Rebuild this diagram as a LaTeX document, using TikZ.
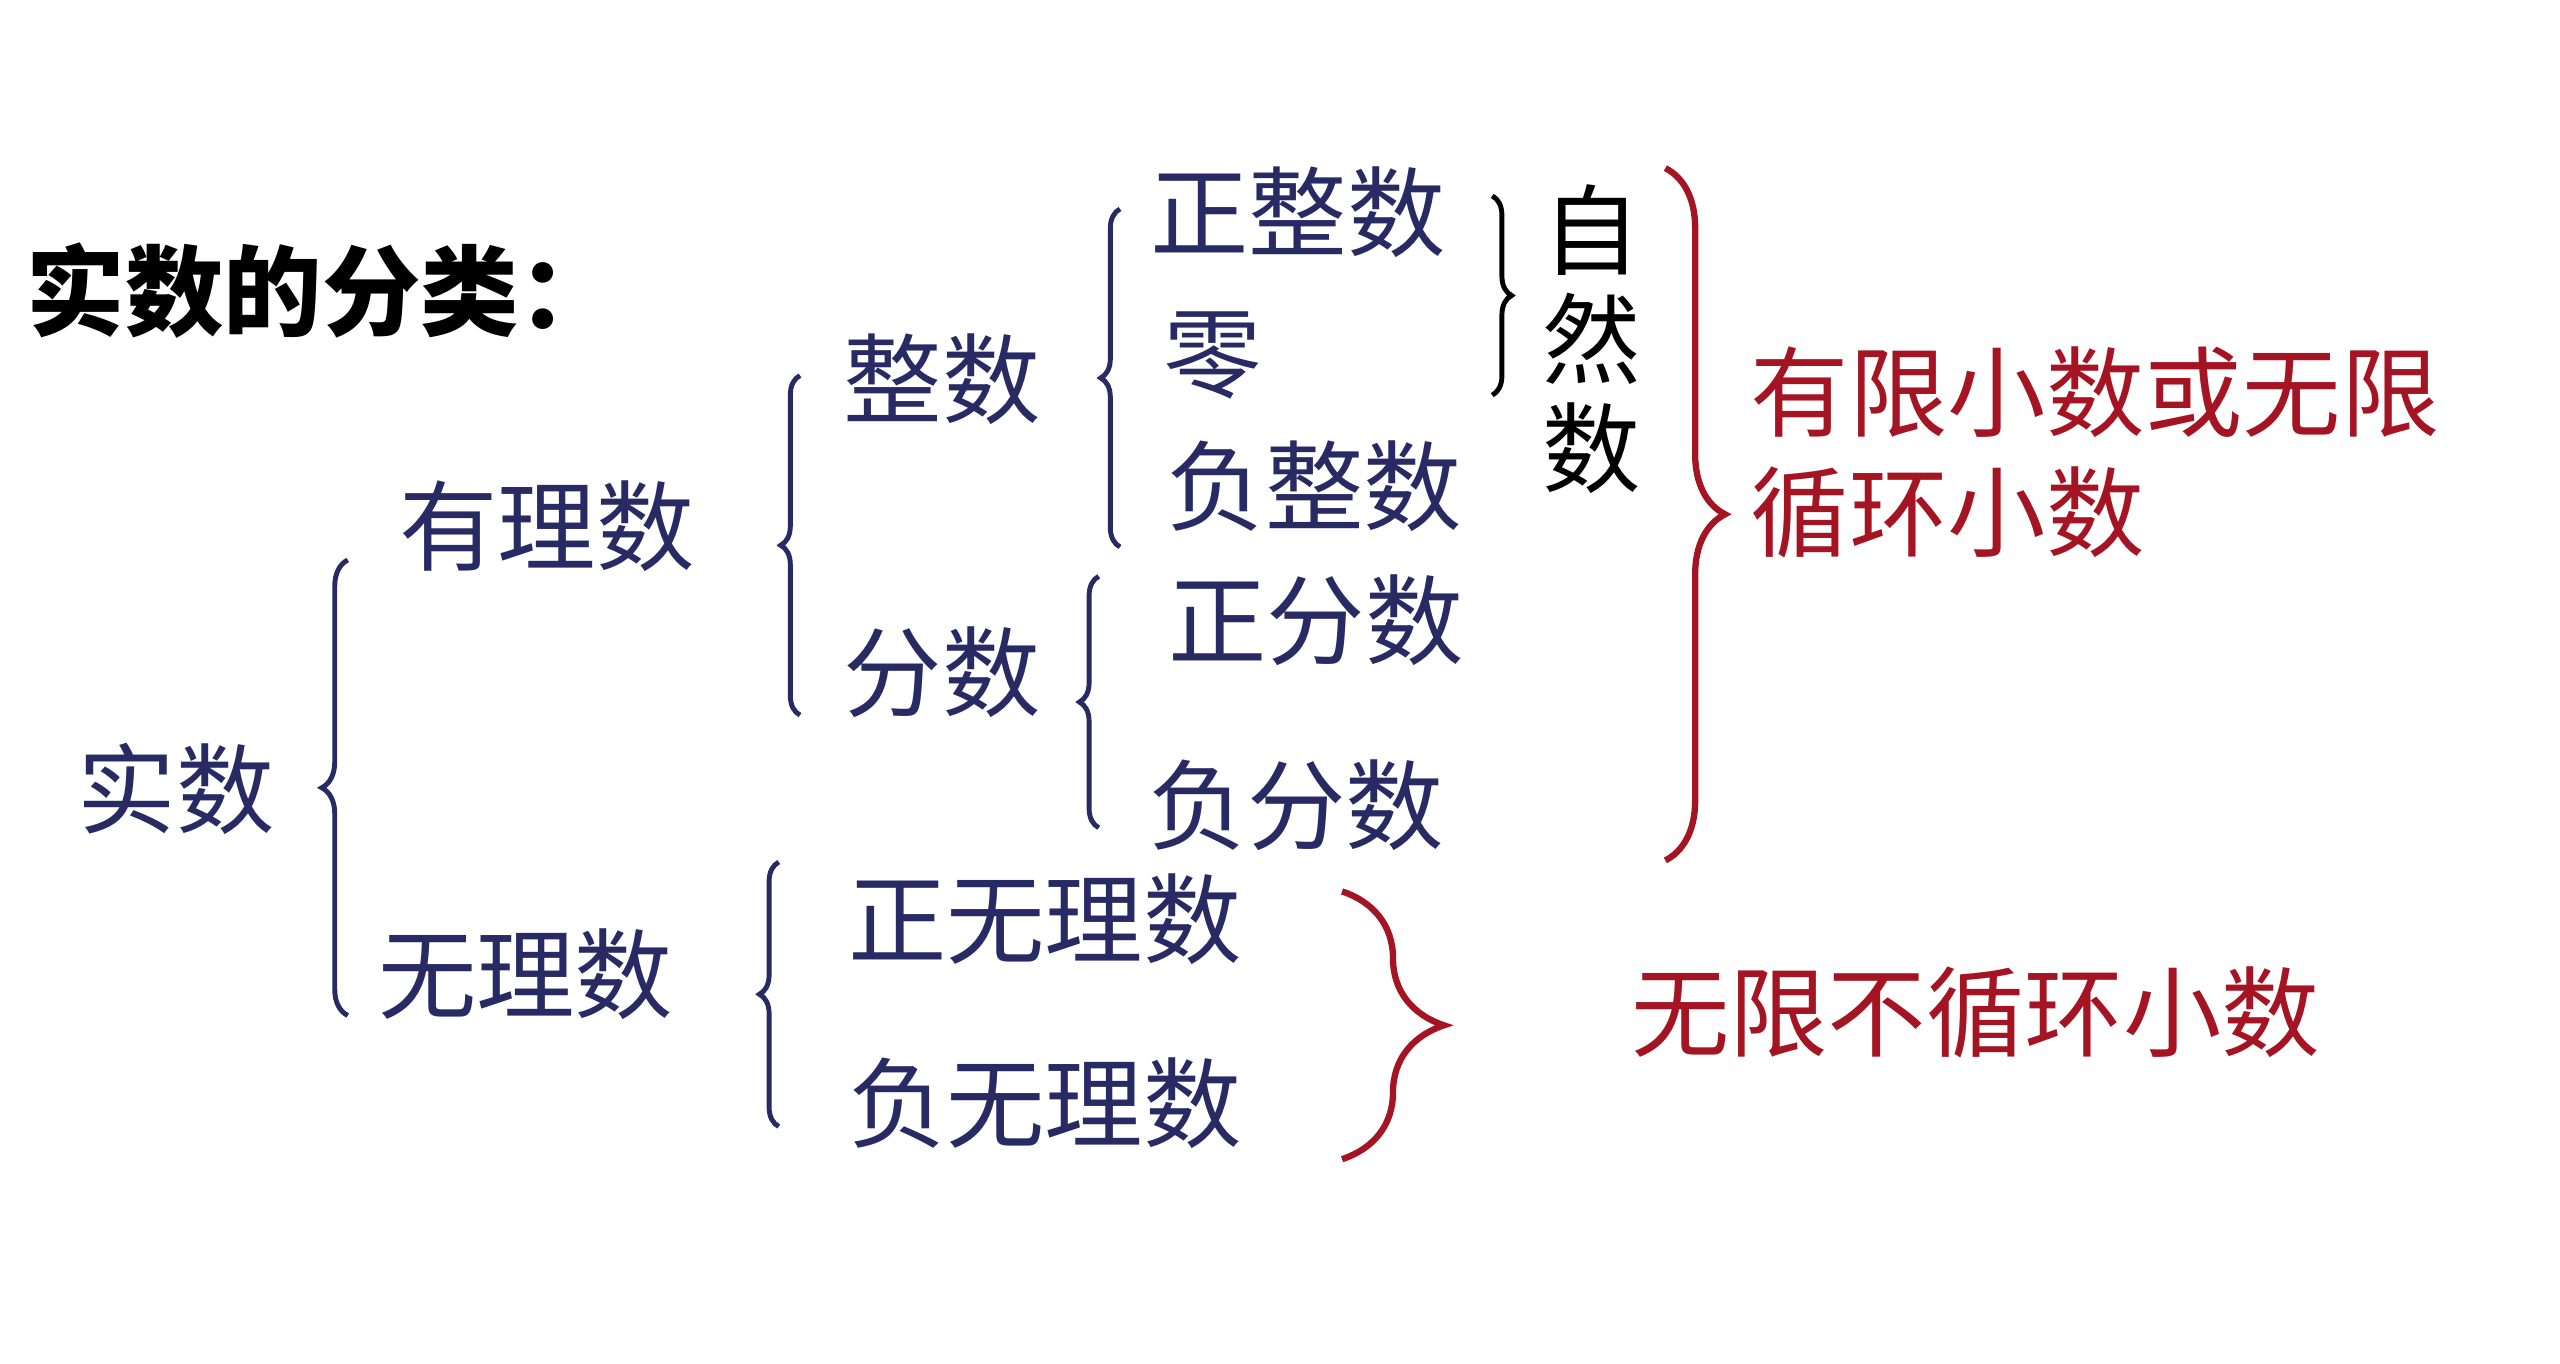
\documentclass[tikz,border=0pt]{standalone}
\usepackage{fontspec}
\setmainfont{Noto Sans CJK SC}
\usetikzlibrary{decorations.pathreplacing}
\definecolor{Navy}{HTML}{272A63}
\definecolor{Crimson}{HTML}{A51422}

\begin{document}
\begin{tikzpicture}[x=0.016327cm,y=-0.016327cm,
  lbl/.style={Navy,font=\fontsize{28}{34}\selectfont,inner sep=0pt},
  redlbl/.style={lbl,Crimson,align=left},
  brc/.style={decorate,decoration={brace,amplitude=#1},line width=1.4pt,Navy}]
  \useasboundingbox (0,0) rectangle (1568,835);
  \node[lbl,black,anchor=west,font=\fontsize{28}{34}\selectfont\bfseries] (title) at (16,178) {实数的分类：};
  \node[lbl] (shishu) at (108,483) {实数};
  \node[lbl] (youli) at (335,322) {有理数};
  \node[lbl] (wuli) at (322,597) {无理数};
  \node[lbl] (zhengshu) at (577,232) {整数};
  \node[lbl] (fenshu) at (577,412) {分数};
  \node[lbl] (zzs) at (795,130) {正整数};
  \node[lbl] (ling) at (743,218) {零};
  \node[lbl] (fzs) at (805,298) {负整数};
  \node[lbl] (zfs) at (806,380) {正分数};
  \node[lbl] (ffs) at (794,493) {负分数};
  \node[lbl] (zwl) at (640,563) {正无理数};
  \node[lbl] (fwl) at (640,676) {负无理数};
  \node[lbl,black,align=center,font=\fontsize{28}{31}\selectfont] (ziran) at (975,208) {自\\然\\数};
  \node[redlbl,anchor=west] (youxian) at (1072,277) {有限小数或无限\\循环小数};
  \node[redlbl] (wuxian) at (1210,620) {无限不循环小数};
  \draw[brc=7.4pt] (213,622) -- (213,343);
  \draw[brc=5.5pt] (490,438) -- (490,230);
  \draw[brc=5.5pt] (686,335) -- (686,128);
  \draw[brc=5.5pt] (673,507) -- (673,353);
  \draw[brc=5.5pt] (477,690) -- (477,528);
  \draw[brc=5.5pt,black] (914,120) -- (914,242);
  \draw[brc=17pt,Crimson,line width=1.8pt] (1020,103) -- (1020,527);
  \draw[brc=29pt,Crimson,line width=1.8pt] (822,546) -- (822,710);
\end{tikzpicture}
\end{document}
